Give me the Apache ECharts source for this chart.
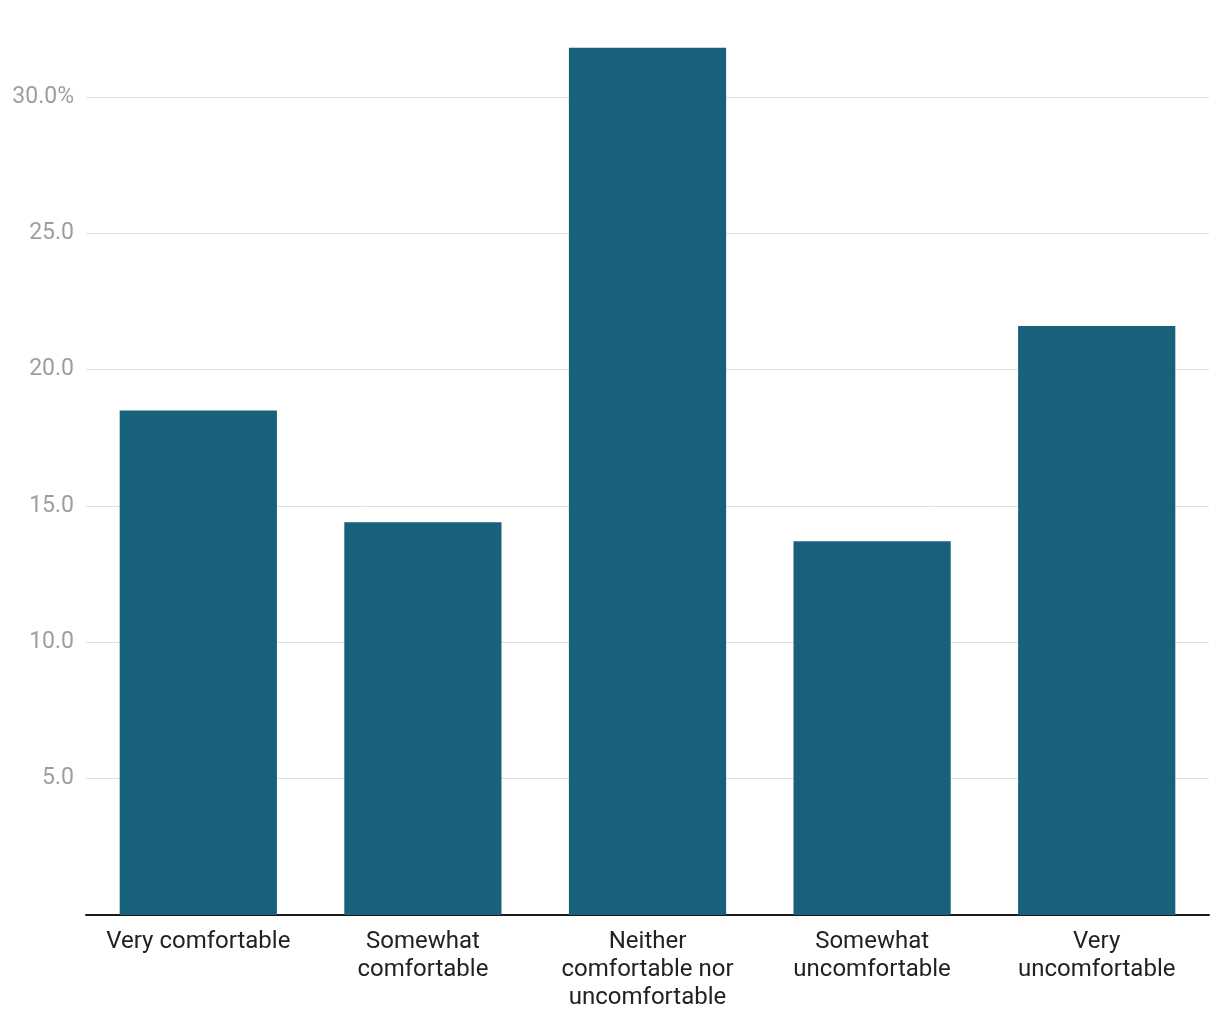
<!DOCTYPE html>
<html><head><meta charset="utf-8">
<script src="https://cdn.jsdelivr.net/npm/echarts@6/dist/echarts.min.js"></script>
<style>html,body{margin:0;padding:0;background:#fff}#c{width:1220px;height:1020px}</style>
</head><body><div id="c"></div>
<script>
const categories = ["Very comfortable", "Somewhat\ncomfortable", "Neither\ncomfortable nor\nuncomfortable", "Somewhat\nuncomfortable", "Very\nuncomfortable"];
const values = [18.5, 14.4, 31.8, 13.7, 21.6];
const yTicks = [5, 10, 15, 20, 25, 30];

const chart = echarts.init(document.getElementById('c'), null, {renderer: 'canvas'});
chart.setOption({
  animation: false,
  grid: {left: 86, right: 11, top: 15, bottom: 105, containLabel: false},
  xAxis: {
    type: 'category', data: categories,
    axisLine: {lineStyle: {color: '#1a1a1a', width: 2}},
    axisTick: {show: false},
    axisLabel: {color: '#222', fontFamily: 'Roboto', fontSize: 24, lineHeight: 28, margin: 13, interval: 0}
  },
  yAxis: {
    type: 'value', min: 0, max: 33, interval: 5,
    axisLine: {show: false}, axisTick: {show: false},
    splitLine: {showMaxLine: false, showMinLine: false, lineStyle: {color: '#e0e0e0', width: 1}},
    axisLabel: {
      color: '#9e9e9e', fontFamily: 'Roboto', fontSize: 23, margin: 12, padding: [3, 0, 0, 0],
      formatter: v => yTicks.includes(v) ? (v === 30 ? v.toFixed(1) + '%' : v.toFixed(1)) : ''
    }
  },
  series: [{
    type: 'bar', data: values, barWidth: '70%',
    itemStyle: {color: '#17617a'}
  }]
});
</script></body></html>
